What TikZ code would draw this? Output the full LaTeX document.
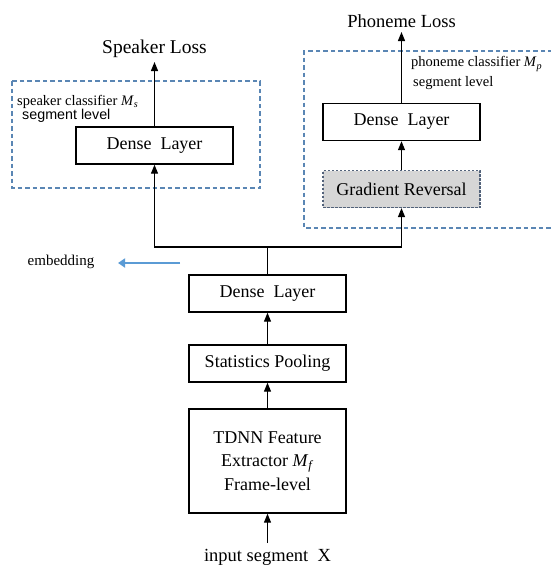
\documentclass[tikz,border=0pt]{standalone}
\usepackage{fontspec}
\setmainfont{Liberation Serif}
\newfontfamily\arialfont{Liberation Sans}
\usetikzlibrary{arrows.meta}
\definecolor{groupblue}{HTML}{5A86B4}
\definecolor{embblue}{HTML}{5B9BD5}
\definecolor{grfill}{HTML}{D6D6D6}
\definecolor{grborder}{HTML}{52627A}
\newcommand{\mvar}[2]{\textit{#1}\textsubscript{\textit{#2}}}
\begin{document}
\begin{tikzpicture}[x=1pt,y=-1pt,
  layerbox/.style={draw=black,line width=1.4pt,fill=white,minimum width=157pt,
    minimum height=37pt,inner sep=0pt,align=center,font=\fontsize{18}{23.5}\selectfont},
  grbox/.style={layerbox,draw=grborder,fill=grfill,dash pattern=on 2.5pt off 1.5pt,line width=1.2pt},
  groupbox/.style={draw=groupblue,line width=1.2pt,dash pattern=on 4.5pt off 3pt},
  flow/.style={line width=1.2pt,-{Triangle[length=9pt,width=7pt]}},
  link/.style={line width=1.2pt},
  losstext/.style={inner sep=0pt,font=\fontsize{18.5}{22}\selectfont},
  notetext/.style={inner sep=0pt,anchor=west,font=\fontsize{14.5}{17}\selectfont}]
\useasboundingbox (0,0) rectangle (551,568);

% speaker branch group
\draw[groupbox] (12,81) rectangle (260,188);
\node[notetext] (spknote) at (17,102) {speaker classifier \mvar{M}{s}};
\node[notetext,font=\arialfont\fontsize{14.3}{17}\selectfont] (spklevel) at (22,116) {segment level};

% phoneme branch group (runs off the right edge)
\draw[groupbox] (560,51) -- (304,51) -- (304,228) -- (560,228);
\node[notetext] (phnote) at (411,64) {phoneme classifier \mvar{M}{p}};
\node[notetext] (phlevel) at (413,83) {segment level};

% layers
\node[layerbox] (spkdense) at (154.5,145.5) {Dense\ \ Layer};
\node[layerbox] (phdense) at (401.5,122) {Dense\ \ Layer};
\node[grbox] (grad) at (401.5,189) {Gradient Reversal};
\node[layerbox] (dense) at (267.5,293.5) {Dense\ \ Layer};
\node[layerbox] (pool) at (267.5,363.5) {Statistics Pooling};
\node[layerbox,minimum height=104pt] (tdnn) at (267.5,461)
  {TDNN Feature\\Extractor \mvar{M}{f}\\Frame-level};

% outputs and input
\node[losstext,anchor=south,font=\fontsize{19.5}{22}\selectfont] (spkloss) at (154.5,58) {Speaker Loss};
\node[losstext,anchor=south] (phloss) at (401.5,28) {Phoneme Loss};
\node[losstext,anchor=north] (input) at (267.5,549) {input segment\ \ X};
\node[inner sep=0pt,font=\fontsize{15}{18}\selectfont] (emb) at (61,262) {embedding};
\coordinate (split) at (267.5,247);
\coordinate (embstart) at (180,263);
\coordinate (embend) at (118,263);

% connectors
\draw[flow] (input.north |- 0,543) -- (tdnn.south);
\draw[flow] (tdnn) -- (pool);
\draw[flow] (pool) -- (dense);
\draw[link] (dense.north) -- (split);
\draw[flow] (split) -| (spkdense.south);
\draw[flow] (split) -| (grad.south);
\draw[flow] (grad) -- (phdense);
\draw[flow] (spkdense.north) -- (spkloss.south |- 0,62);
\draw[flow] (phdense.north) -- (phloss.south |- 0,32);
\draw[line width=2.8pt,embblue,-{Triangle[length=7pt,width=9pt]}] (embstart) -- (embend);
\end{tikzpicture}
\end{document}
